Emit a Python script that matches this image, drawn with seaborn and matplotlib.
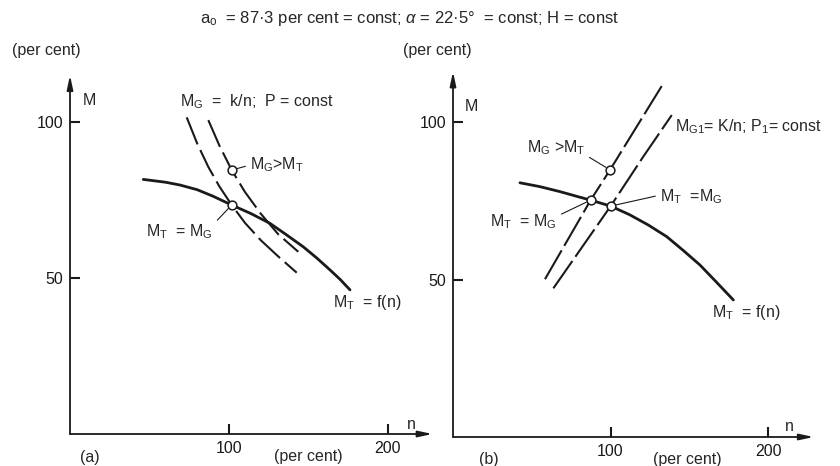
import matplotlib
matplotlib.use("Agg")
import matplotlib.pyplot as plt
import pandas as pd
import seaborn as sns

# ---- panel (a): turbine torque M_T = f(n) and generator torque hyperbolas M_G = k/n
turb_n_a = [46.1, 60, 69.2, 80, 90, 101.7, 114, 125.8, 136, 146.7, 155, 163.5, 170, 176.1]
turb_M_a = [81.6, 80.7, 79.8, 78.3, 76.2, 73.4, 70.6, 67.5, 63.9, 60.0, 56.5, 52.6, 49.5, 46.2]
gen1_n_a = [73.4, 80, 87, 94, 101.7, 110, 120, 131, 142.6]
gen1_M_a = [101.5, 93.1, 85.6, 79.3, 73.4, 67.7, 62.1, 56.9, 51.7]
gen2_n_a = [87, 94, 101.7, 110, 120, 131, 143.6]
gen2_M_a = [100.6, 92.4, 84.6, 77.6, 70.6, 64.0, 58.4]
pts_n_a = [101.7, 101.7]
pts_M_a = [84.6, 73.4]

# ---- panel (b): turbine torque and generator lines M_G1 = K/n
turb_n_b = [42.5, 55, 67.9, 80, 87.4, 100.1, 112, 124, 135.7, 146, 156.8, 167, 178]
turb_M_b = [80.7, 79.5, 77.9, 76.2, 75.2, 73.3, 70.6, 67.3, 63.6, 59.3, 54.6, 49.3, 43.5]
gen1_n_b = [58.4, 87.4, 99.7, 132.5]
gen1_M_b = [50.1, 75.2, 84.8, 111.4]
gen2_n_b = [63.7, 100.1, 120.8, 138.9]
gen2_M_b = [47.2, 73.3, 89.0, 102.2]
pts_n_b = [99.7, 87.4, 100.1]
pts_M_b = [84.8, 75.2, 73.3]

x_ticks = [100, 200]
y_ticks = [50, 100]

sns.set_theme(style="white")
plt.rcParams["font.family"] = ["Liberation Sans", "DejaVu Sans"]
plt.rcParams["mathtext.fontset"] = "custom"
plt.rcParams["mathtext.rm"] = "Liberation Sans"
plt.rcParams["mathtext.it"] = "Liberation Sans:italic"

FS = 11.5
fig = plt.figure(figsize=(8.4, 4.66), dpi=100)
ax_a = fig.add_axes([70 / 840, 32 / 466, 362.5 / 840, 358.8 / 466])
ax_b = fig.add_axes([453 / 840, 29 / 466, 360.7 / 840, 365.4 / 466])


def frame(ax, xmax, ymax):
    ax.set_xlim(0, xmax)
    ax.set_ylim(0, ymax)
    for s in ax.spines.values():
        s.set_visible(False)
    ax.set_facecolor("none")
    ax.set_xticks(x_ticks)
    ax.set_yticks(y_ticks)
    ax.set_xticklabels([str(v) for v in x_ticks])
    ax.set_yticklabels([str(v) for v in y_ticks])
    ax.tick_params(bottom=True, left=True, direction="in", length=7, width=1.5,
                   color="k", labelsize=FS, labelcolor="k", pad=5)
    ax.set_xlabel("")
    ax.set_ylabel("")
    arrow = dict(arrowstyle="-|>,head_length=0.7,head_width=0.15",
                 lw=1.3, color="k", shrinkA=0, shrinkB=0, mutation_scale=12)
    ax.annotate("", xy=(1, 0), xytext=(0, 0), xycoords="axes fraction",
                textcoords="axes fraction", arrowprops=arrow)
    ax.annotate("", xy=(0, 1), xytext=(0, 0), xycoords="axes fraction",
                textcoords="axes fraction", arrowprops=arrow)


def curve(ax, n, M, ls, lw):
    df = pd.DataFrame({"n": n, "M": M})
    sns.lineplot(data=df, x="n", y="M", ax=ax, color="k", lw=lw,
                 linestyle=ls, sort=False, estimator=None)


def points(ax, n, M):
    df = pd.DataFrame({"n": n, "M": M})
    sns.scatterplot(data=df, x="n", y="M", ax=ax, marker="o", s=40,
                    facecolor="white", edgecolor="k", linewidth=1.1, zorder=5)


leader = dict(arrowstyle="-", lw=0.8, color="k", shrinkA=1, shrinkB=3.5)

# ---------------- panel (a)
curve(ax_a, turb_n_a, turb_M_a, "-", 2.0)
curve(ax_a, gen1_n_a, gen1_M_a, (0, (14, 3)), 1.5)
curve(ax_a, gen2_n_a, gen2_M_a, (0, (14, 3)), 1.5)
points(ax_a, pts_n_a, pts_M_a)
frame(ax_a, 228, 115)

ax_a.text(8.2, 107, "M", fontsize=FS, va="center")
ax_a.text(215, 3.2, "n", fontsize=FS, ha="center", va="center")
ax_a.text(69.2, 106.4, r"M$_\mathregular{G}$  =  k/n;  P = const", fontsize=FS, va="center")
ax_a.text(165.4, 42, r"M$_\mathregular{T}$  = f(n)", fontsize=FS, va="center")
ax_a.annotate(r"M$_\mathregular{G}$>M$_\mathregular{T}$", xy=(pts_n_a[0], pts_M_a[0]),
              xytext=(113.2, 86.2), fontsize=FS, ha="left", va="center",
              arrowprops=dict(leader, relpos=(0, 0.5)))
ax_a.annotate(r"M$_\mathregular{T}$  = M$_\mathregular{G}$", xy=(pts_n_a[1], pts_M_a[1]),
              xytext=(90, 64.7), fontsize=FS, ha="right", va="center",
              arrowprops=dict(leader, relpos=(1, 0.9)))
ax_a.text(12.6, -7.5, "(a)", fontsize=FS, ha="center", va="center", clip_on=False)
ax_a.text(150, -7.1, "(per cent)", fontsize=FS, ha="center", va="center", clip_on=False)

# ---------------- panel (b)
curve(ax_b, turb_n_b, turb_M_b, "-", 2.0)
curve(ax_b, gen1_n_b, gen1_M_b, (0, (16, 2.5)), 1.5)
curve(ax_b, gen2_n_b, gen2_M_b, (0, (16, 2.5)), 1.5)
points(ax_b, pts_n_b, pts_M_b)
frame(ax_b, 229, 116)

ax_b.text(7.6, 105, "M", fontsize=FS, va="center")
ax_b.text(213.3, 3.2, "n", fontsize=FS, ha="center", va="center")
ax_b.text(141, 98.4, r"M$_\mathregular{G1}$= K/n; P$_\mathregular{1}$= const", fontsize=FS, va="center")
ax_b.text(164.4, 39.4, r"M$_\mathregular{T}$  = f(n)", fontsize=FS, va="center")
ax_b.annotate(r"M$_\mathregular{G}$ >M$_\mathregular{T}$", xy=(pts_n_b[0], pts_M_b[0]),
              xytext=(83.8, 92), fontsize=FS, ha="right", va="center",
              arrowprops=dict(leader, relpos=(1, 0.1)))
ax_b.annotate(r"M$_\mathregular{T}$  = M$_\mathregular{G}$", xy=(pts_n_b[1], pts_M_b[1]),
              xytext=(66, 68.3), fontsize=FS, ha="right", va="center",
              arrowprops=dict(leader, relpos=(1, 0.8)))
ax_b.annotate(r"M$_\mathregular{T}$  =M$_\mathregular{G}$", xy=(pts_n_b[2], pts_M_b[2]),
              xytext=(131.4, 76.2), fontsize=FS, ha="left", va="center",
              arrowprops=dict(leader, relpos=(0, 0.6)))
ax_b.text(22.5, -7.3, "(b)", fontsize=FS, ha="center", va="center", clip_on=False)
ax_b.text(148.6, -7.3, "(per cent)", fontsize=FS, ha="center", va="center", clip_on=False)

# ---------------- shared labels
fig.text(12 / 840, 1 - 51 / 466, "(per cent)", fontsize=FS, va="center")
fig.text(403 / 840, 1 - 51 / 466, "(per cent)", fontsize=FS, va="center")
fig.text(410 / 840, 1 - 18 / 466,
         r"a$_\mathregular{o}$  = 87·3 per cent = const; $\alpha$ = 22·5°  = const; H = const",
         fontsize=12, ha="center", va="center")

fig.savefig("out.png", dpi=100, facecolor="white")
